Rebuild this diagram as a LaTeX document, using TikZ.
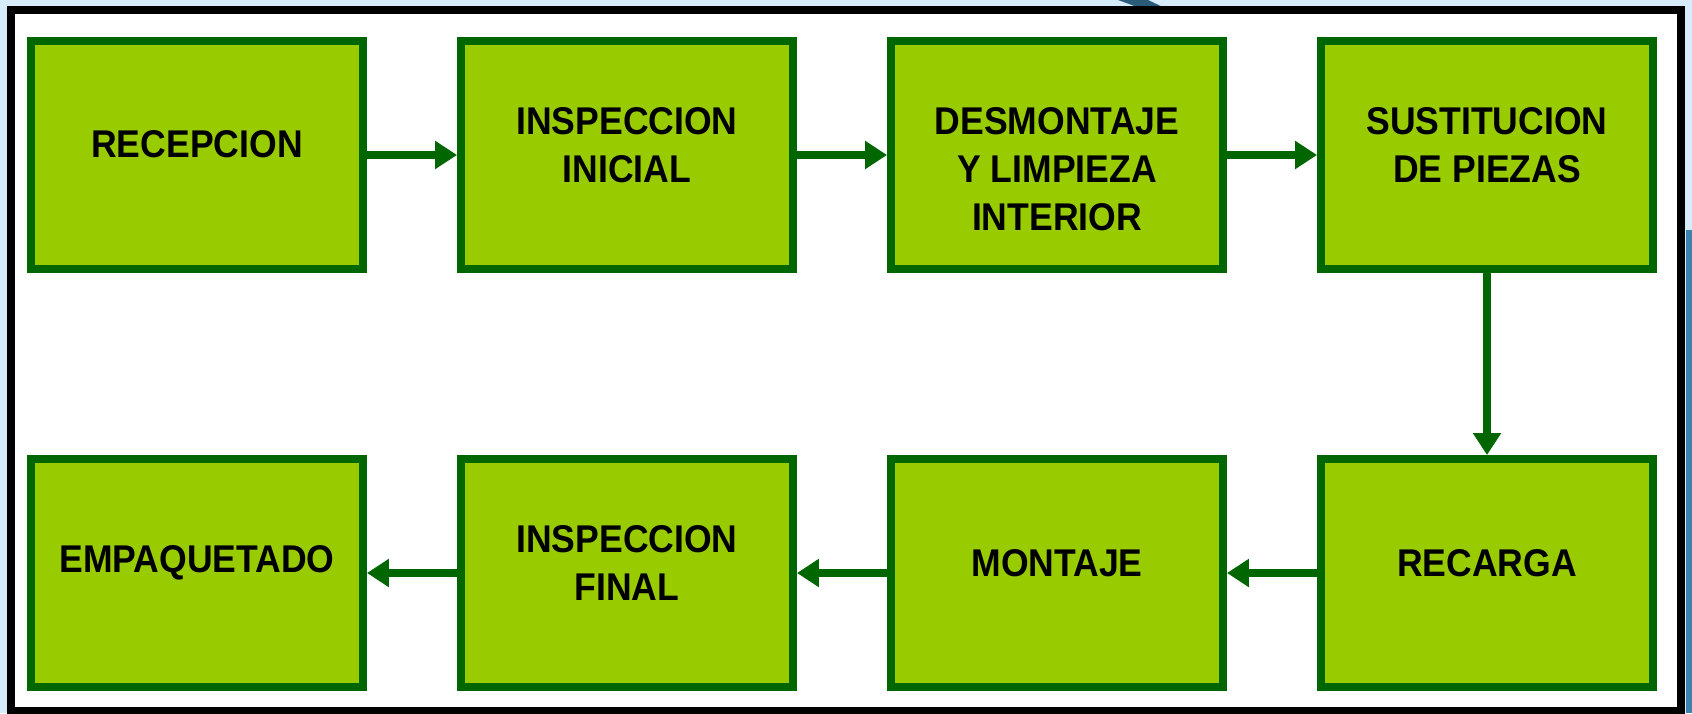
\documentclass[tikz,border=0pt]{standalone}
\usepackage{fontspec}
\setmainfont{Liberation Sans}[FakeStretch=0.92]
\usetikzlibrary{arrows.meta}
\definecolor{boxfill}{RGB}{153,204,0}
\definecolor{boxline}{RGB}{0,102,0}
\definecolor{slidebg}{RGB}{214,236,250}
\definecolor{slideblue}{RGB}{60,130,172}
\tikzset{
  stepbox/.style={draw=boxline, fill=boxfill, line width=0.16cm,
    minimum width=6.64cm, minimum height=4.56cm},
  steptext/.style={font=\bfseries\fontsize{22pt}{27.3pt}\selectfont,
    align=center, text=black},
  flow/.style={draw=boxline, line width=0.16cm,
    -{Triangle[length=0.44cm, width=0.54cm]}}
}
\begin{document}
\begin{tikzpicture}[x=0.02cm, y=-0.02cm]
      \useasboundingbox (0,0) rectangle (1692,713);
      % slide background
      \fill[slidebg] (0,0) rectangle (1692,713);
      \fill[slideblue] (1686,230) rectangle (1692,713);
      \fill[slideblue!70!black] (1118,0) -- (1148,0) -- (1165,8) -- (1140,8) -- cycle;
      \draw[line width=0.16cm, fill=white] (11,10) rectangle (1681,711);
      \draw
        (197,155) node[stepbox] (1){}
        (627,155) node[stepbox] (2){}
        (1057,155) node[stepbox] (3){}
        (1487,155) node[stepbox] (4){}
        (1487,573) node[stepbox] (5){}
        (1057,573) node[stepbox] (6){}
        (627,573) node[stepbox] (7){}
        (197,573) node[stepbox] (8){};
      \node[steptext, yshift=0.22cm] (t1) at (1.center) {RECEPCION};
      \node[steptext, yshift=0.2cm] (t2) at (2.center) {INSPECCION\\INICIAL};
      \node[steptext, yshift=-0.28cm] (t3) at (3.center) {DESMONTAJE\\Y LIMPIEZA\\INTERIOR};
      \node[steptext, yshift=0.2cm] (t4) at (4.center) {SUSTITUCION\\DE PIEZAS};
      \node[steptext, yshift=0.2cm] (t5) at (5.center) {RECARGA};
      \node[steptext, yshift=0.2cm] (t6) at (6.center) {MONTAJE};
      \node[steptext, yshift=0.2cm] (t7) at (7.center) {INSPECCION\\FINAL};
      \node[steptext, yshift=0.2cm] (t8) at (8.center) {EMPAQUETADO};
      \begin{scope}[flow]
        \draw (1) to (2);
        \draw (2) to (3);
        \draw (3) to (4);
        \draw (4) to (5);
        \draw (5) to (6);
        \draw (6) to (7);
        \draw (7) to (8);
      \end{scope}
    \end{tikzpicture}
\end{document}
